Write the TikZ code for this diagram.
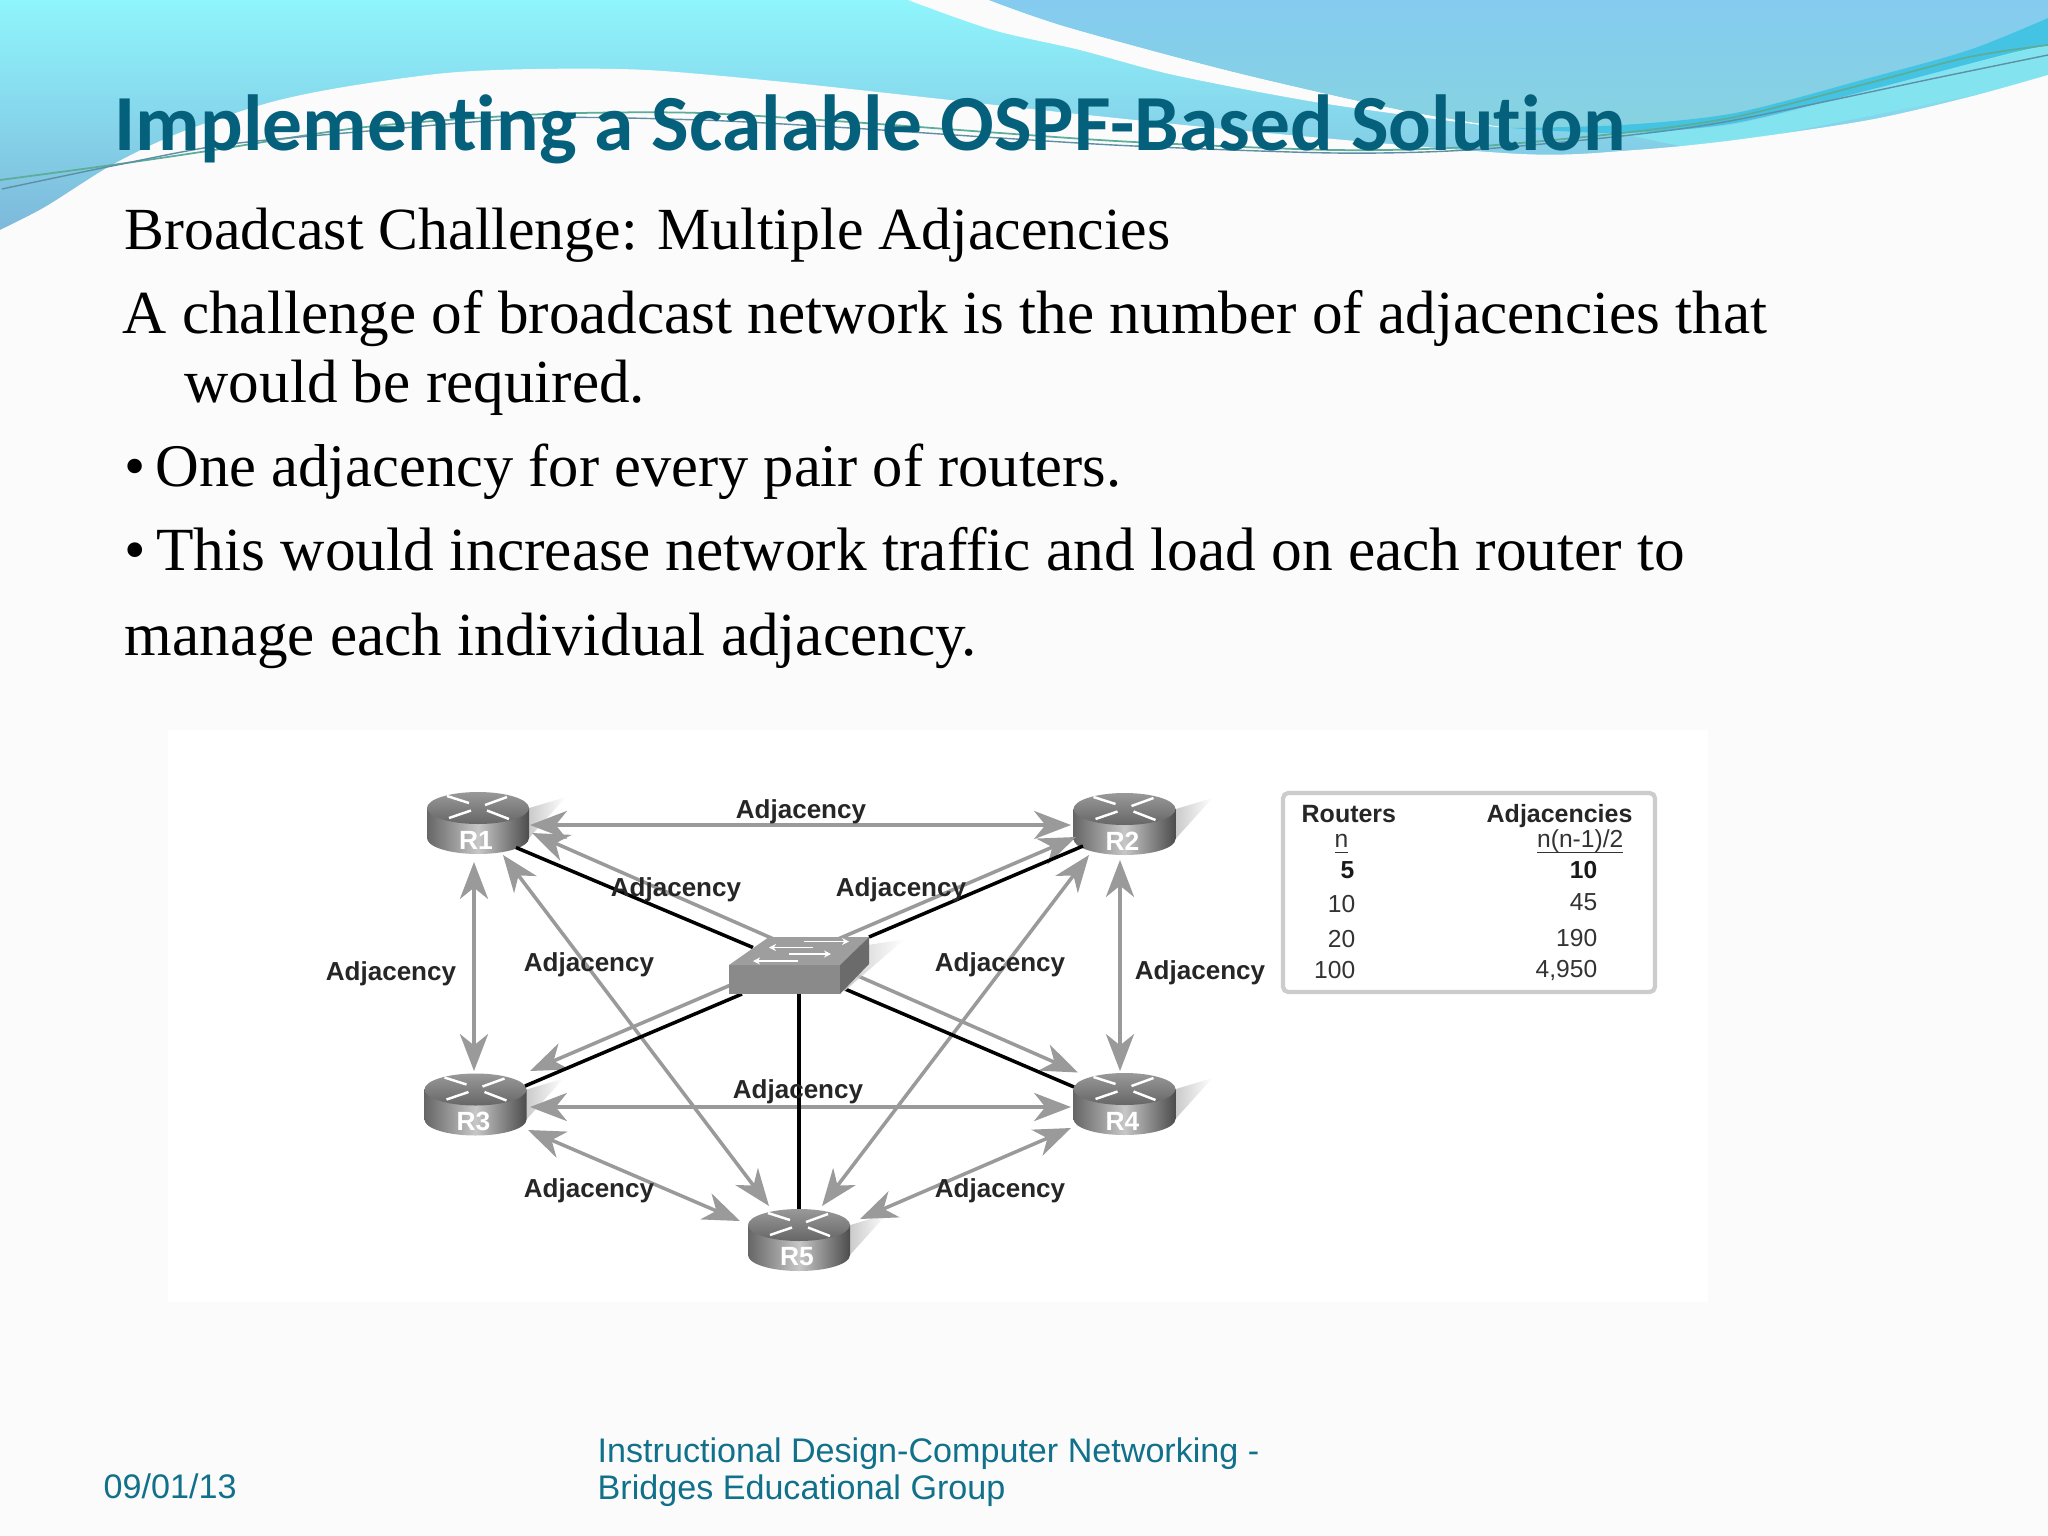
\documentclass[tikz,border=0pt]{standalone}
\usepackage{fontspec}
\setmainfont{Liberation Serif}
\setsansfont{Liberation Sans}
\newfontfamily\titlefont[Ligatures=NoCommon]{Carlito}
\usetikzlibrary{arrows.meta,fadings}
\definecolor{pagebg}{HTML}{FBFBFC}
\definecolor{titleteal}{HTML}{05607C}
\definecolor{footteal}{HTML}{11708A}
\definecolor{adjgray}{HTML}{9A9A9A}
\definecolor{skytop}{HTML}{8FF5FC}
\definecolor{skymid}{HTML}{83E4F0}
\definecolor{skylow}{HTML}{7DB8DA}
\definecolor{bluetop}{HTML}{85CBF0}
\definecolor{bluelow}{HTML}{86D3E0}
\definecolor{streak}{HTML}{45C3E2}
\definecolor{threadgreen}{HTML}{5AAE9A}
\definecolor{threadblue}{HTML}{5E8FA5}
\tikzset{
    bodytext/.style={anchor=base west, inner sep=0pt, font=\fontsize{17.4}{20}\selectfont},
    foottext/.style={anchor=base west, inner sep=0pt, text=footteal, font=\sffamily\fontsize{9.7}{12}\selectfont},
    adjlink/.style={adjgray, line width=1pt, {Stealth[length=10.5pt,width=8pt,inset=3.2pt]}-{Stealth[length=10.5pt,width=8pt,inset=3.2pt]}},
    wirelink/.style={black, line width=1pt},
    adjlabel/.style={inner sep=0pt, text=black!85, font=\sffamily\bfseries\fontsize{7.4}{9}\selectfont},
    routerbox/.style={minimum width=1.02cm, minimum height=0.62cm, inner sep=0pt},
    routertext/.style={inner sep=0pt, text=white, font=\sffamily\bfseries\fontsize{7.5}{9}\selectfont},
    cellhead/.style={anchor=base west, inner sep=0pt, text=black!85, font=\sffamily\bfseries\fontsize{7.1}{9}\selectfont},
    cellnum/.style={anchor=base east, inner sep=0pt, text=black!80, font=\sffamily\fontsize{7}{9}\selectfont},
    cellbold/.style={cellnum, text=black!90, font=\sffamily\bfseries\fontsize{7}{9}\selectfont}
}
% Router: cilindro gris con su nombre
\newcommand{\drawrouter}[3]{
    \node[routerbox] (#1) at (#2,#3) {};
    \begin{scope}[shift={(#1.center)}]
        \fill[black!22, path fading=east] (48,-14) -- (88,-26) -- (50,16) -- cycle;
        \shade[left color=black!60, right color=black!70, middle color=black!22]
            (-51,-15) -- (-51,15) .. controls (-51,24) and (-28,31) .. (0,31)
            .. controls (28,31) and (51,24) .. (51,15) -- (51,-15) -- cycle;
        \shade[top color=black!40, bottom color=black!60] (0,-15) ellipse [x radius=51, y radius=16];
        \draw[white, line width=0.7pt] (-31,-27) -- (-9,-20) (7,-18) -- (29,-26) (-29,-5) -- (-7,-12.5) (9,-12.5) -- (31,-4);
        \node[routertext] (#1t) at (-2,17) {#1};
    \end{scope}
}
\begin{document}
\begin{tikzpicture}[x=0.01cm, y=-0.01cm]
    \useasboundingbox (0,0) rectangle (2048,1536);
    \fill[pagebg] (0,0) rectangle (2048,1536);
    % Fondo superior
    \shade[top color=skytop, middle color=skymid, bottom color=skylow] (0,0) rectangle (2048,232);
    \fill[pagebg] plot[smooth] coordinates {(908,0) (993,30) (1080,50) (1174,75) (1321,103) (1481,125) (1510,128)}
        -- plot[smooth] coordinates {(1510,128) (1401,110) (1234,72) (1067,27) (989,0)} -- cycle;
    \shade[top color=bluetop, bottom color=bluelow] (989,0) -- (2048,0) -- (2048,18)
        -- plot[smooth] coordinates {(2048,18) (1969,50) (1869,78) (1735,113) (1622,125) (1510,128)}
        -- plot[smooth] coordinates {(1510,128) (1401,110) (1234,72) (1067,27) (989,0)} -- cycle;
    \fill[streak] plot[smooth] coordinates {(1510,128) (1622,125) (1735,113) (1869,78) (1969,50) (2048,18)}
        -- plot[smooth] coordinates {(2048,45) (2003,55) (1869,90) (1735,123) (1622,133) (1510,128)} -- cycle;
    \fill[skymid] (1622,134) -- plot[smooth] coordinates {(1622,134) (1735,124) (1869,91) (2003,56) (2048,46)} -- (2048,80) -- (1700,150) -- cycle;
    \fill[pagebg] plot[smooth] coordinates {(0,230) (45,207) (112,165) (179,133) (268,103) (344,87) (446,73) (536,69) (647,70) (784,82) (950,100) (1087,115) (1267,133) (1521,154) (1635,150) (1735,140) (1869,120) (1969,97) (2048,75)} -- (2048,245) -- (0,245) -- cycle;
    \draw[threadgreen, line width=0.5pt] plot[smooth] coordinates {(0,180) (112,165) (201,152) (357,128) (491,117) (580,113) (700,113) (850,122) (1000,133) (1134,142) (1334,150) (1468,147) (1622,133) (1735,117) (1869,83) (1969,57) (2048,45)};
    \draw[threadblue, line width=0.4pt] plot[smooth] coordinates {(2,189) (112,166) (223,145) (357,132) (536,118) (700,120) (850,128) (1000,138) (1134,146) (1334,153) (1468,150) (1622,136) (1735,120) (1936,78) (2048,55)};
    % Textos
    \node[anchor=base west, inner sep=0pt, text=titleteal, font=\titlefont\bfseries\fontsize{22.6}{26}\selectfont] (title) at (114,150) {Implementing a Scalable OSPF-Based Solution};
    \node[bodytext, font=\fontsize{17}{20}\selectfont] (sub) at (124,249) {Broadcast Challenge: Multiple Adjacencies};
    \node[bodytext] (line1) at (122,333) {A challenge of broadcast network is the number of adjacencies that};
    \node[bodytext] (line2) at (184,402) {would be required.};
    \node[bodytext, font=\fontsize{17.2}{20}\selectfont] (line3) at (124,486) {•\hspace{0.165em}One adjacency for every pair of routers.};
    \node[bodytext, font=\fontsize{17.45}{20}\selectfont] (line4) at (124,570) {•\hspace{0.165em}This would increase network traffic and load on each router to};
    \node[bodytext] (line5) at (124,655) {manage each individual adjacency.};
    \node[foottext] (date) at (103,1498) {09/01/13};
    \node[foottext] (foot1) at (597,1462) {Instructional Design-Computer Networking -};
    \node[foottext] (foot2) at (597,1499) {Bridges Educational Group};
    % Diagrama
    \fill[white] (168,730) rectangle (1708,1302);
    \drawrouter{R1}{478}{823}
    \drawrouter{R2}{1124.5}{824}
    \drawrouter{R3}{475.5}{1104.5}
    \drawrouter{R4}{1124.5}{1104}
    \drawrouter{R5}{799}{1240}
    \node[minimum width=1.4cm, minimum height=0.57cm, inner sep=0pt] (SW) at (799,965.5) {};
    % Adyacencias
    \foreach \a/\ax/\ay/\b/\bx/\by in {R1/52/2/R2/-53.5/1, R1/54/10/R4/-46.5/-31.5, R2/-48.5/13/R3/54.5/-33.5,
        R1/-4/39/R3/-1.5/-33.5, R2/-4.5/36/R4/-4.5/-33, R3/54.5/2.5/R4/-53.5/3, R1/25/32/R5/-30/-34,
        R2/-35.5/31/R5/23/-34, R3/52.5/25.5/R5/-59/-19, R4/-53.5/24/R5/61/-21}
        \draw[adjlink] ([shift={(\ax,\ay)}]\a.center) -- ([shift={(\bx,\by)}]\b.center);
    % Cables al switch
    \foreach \a/\ax/\ay/\sx/\sy in {R1/38/24.5/-46/-18, R2/-41.5/22/70/-28.5, R3/49.5/-18.5/-57/28.5, R4/-50.5/-17/46/23.5, R5/0/-31/0/28.5}
        \draw[wirelink] ([shift={(\ax,\ay)}]\a.center) -- ([shift={(\sx,\sy)}]SW.center);
    % Switch
    \begin{scope}[shift={(SW.center)}]
        \fill[black!20, path fading=east] (65,-20) -- (105,-26) -- (45,26) -- cycle;
        \fill[black!46] (-70,-0.5) rectangle (41,28.5);
        \fill[black!38] (-70,-0.5) -- (-30,-28.5) -- (70,-28.5) -- (41,-0.5) -- cycle;
        \fill[black!58] (41,-0.5) -- (70,-28.5) -- (70,-1.5) -- (41,28.5) -- cycle;
        \draw[white, line width=0.4pt, -{Stealth[length=2pt,width=2pt]}] (5,-24) -- (50,-24);
        \draw[white, line width=0.4pt, {Stealth[length=2pt,width=2pt]}-] (-30,-18) -- (14,-18);
        \draw[white, line width=0.4pt, -{Stealth[length=2pt,width=2pt]}] (-10,-11.5) -- (32,-11.5);
        \draw[white, line width=0.4pt, {Stealth[length=2pt,width=2pt]}-] (-46,-4.5) -- (-1,-4.5);
    \end{scope}
    % Etiquetas
    \foreach \n/\x/\y in {top/801/812, ua/676/889.5, ub/901/889.5, le/391/974, ia/589/965, ib/1000/965,
        ri/1200/973, mi/798/1092, ba/589/1190.5, bb/1000/1190.5}
        \node[adjlabel] (lab\n) at (\x,\y) {Adjacency};
    % Tabla
    \draw[black!20, line width=1.2pt, rounded corners=1.5pt, fill=white] (1283,793) rectangle (1655,992);
    \node[cellhead] (hrouters) at (1301,822.5) {Routers};
    \node[cellhead] (hadj) at (1486,822.5) {Adjacencies};
    \node[cellnum] (sn) at (1349,847.5) {\underline{n}};
    \node[cellnum] (sf) at (1624,847.5) {\underline{\smash{n(n-1)/2}}};
    \node[cellbold] (c5) at (1355,878.5) {5};
    \node[cellbold] (d5) at (1598,878.5) {10};
    \node[cellnum] (c10) at (1356,912) {10};
    \node[cellnum] (d10) at (1598,910) {45};
    \node[cellnum] (c20) at (1356,947.5) {20};
    \node[cellnum] (d20) at (1598,946.5) {190};
    \node[cellnum] (c100) at (1356,978) {100};
    \node[cellnum] (d100) at (1598,977) {4,950};
\end{tikzpicture}
\end{document}
